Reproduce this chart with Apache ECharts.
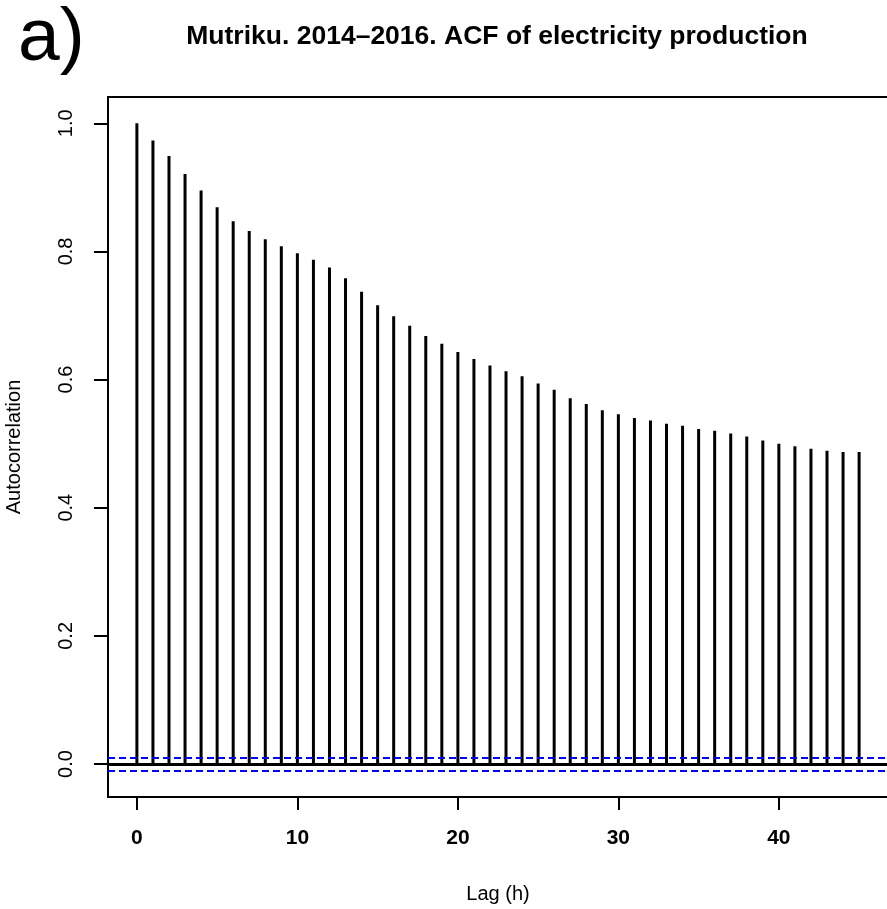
<!DOCTYPE html>
<html>
<head>
<meta charset="utf-8">
<script src="https://cdn.jsdelivr.net/npm/echarts@6/dist/echarts.min.js"></script>
<style>
  html, body { margin: 0; padding: 0; background: #fff; }
  #chart { width: 887px; height: 909px; }
</style>
</head>
<body>
<div id="chart"></div>
<script>
// lag (h) and autocorrelation
const lags = [0, 1, 2, 3, 4, 5, 6, 7, 8, 9, 10, 11, 12, 13, 14, 15, 16, 17, 18, 19, 20, 21, 22,
  23, 24, 25, 26, 27, 28, 29, 30, 31, 32, 33, 34, 35, 36, 37, 38, 39, 40, 41, 42, 43, 44, 45];
const acf = [1.000, 0.973, 0.949, 0.921, 0.895, 0.869, 0.847, 0.832, 0.819, 0.808, 0.797, 0.787,
  0.775, 0.758, 0.737, 0.716, 0.699, 0.684, 0.668, 0.656, 0.643, 0.632, 0.622, 0.613, 0.605,
  0.594, 0.584, 0.571, 0.562, 0.552, 0.546, 0.540, 0.536, 0.531, 0.528, 0.523, 0.520, 0.516,
  0.511, 0.505, 0.500, 0.496, 0.492, 0.489, 0.487, 0.487];
const ci = 0.0105;   // confidence bound (blue dashed)
const xTicks = [0, 10, 20, 30, 40];
const yTicks = [0, 0.2, 0.4, 0.6, 0.8, 1.0];

const font = 'Liberation Sans, Arial, Helvetica, sans-serif';
const chart = echarts.init(document.getElementById('chart'));

chart.setOption({
  animation: false,
  title: {
    text: 'Mutriku. 2014\u20132016. ACF of electricity production',
    left: 492,
    top: 18,
    textAlign: 'center',
    textStyle: { fontFamily: font, fontSize: 26.5, fontWeight: 'bold', color: '#000' }
  },
  graphic: [{
    type: 'text',
    left: 18,
    top: 2,
    style: { text: 'a)', font: '75px ' + font, fill: '#000' }
  }],
  grid: {
    left: 108, top: 97, width: 780, height: 700,
    outerBoundsMode: 'none',
    containLabel: false,
    show: true, borderColor: '#000', borderWidth: 2, backgroundColor: 'transparent'
  },
  xAxis: {
    type: 'value',
    min: -1.8,
    max: 46.8,
    name: 'Lag (h)',
    nameLocation: 'middle',
    nameGap: 87,
    nameTextStyle: { fontFamily: font, fontSize: 20, color: '#000' },
    splitLine: { show: false },
    axisLine: { show: true, onZero: false, lineStyle: { color: '#000', width: 2 } },
    axisTick: { show: true, length: 13, customValues: xTicks, lineStyle: { color: '#000', width: 2 } },
    axisLabel: {
      customValues: xTicks,
      margin: 31,
      fontFamily: font, fontSize: 21, fontWeight: 'bold', color: '#000'
    }
  },
  yAxis: {
    type: 'value',
    min: -0.0515,
    max: 1.041,
    name: 'Autocorrelation',
    nameLocation: 'middle',
    nameRotate: 90,
    nameGap: 84,
    nameTextStyle: { fontFamily: font, fontSize: 20, color: '#000' },
    splitLine: { show: false },
    axisLine: { show: true, onZero: false, lineStyle: { color: '#000', width: 2 } },
    axisTick: { show: true, length: 14, customValues: yTicks, lineStyle: { color: '#000', width: 2 } },
    axisLabel: {
      customValues: yTicks,
      rotate: 90,
      margin: 32,
      formatter: v => v.toFixed(1),
      fontFamily: font, fontSize: 20, color: '#000'
    }
  },
  series: [{
    type: 'bar',
    barWidth: 3,
    itemStyle: { color: '#000' },
    data: lags.map((l, i) => [l, acf[i]]),
    markLine: {
      silent: true,
      symbol: 'none',
      label: { show: false },
      data: [
        { yAxis: 0, lineStyle: { color: '#000', width: 3, type: 'solid' } },
        { yAxis: ci, lineStyle: { color: '#0000ff', width: 2, type: [7, 4] } },
        { yAxis: -ci, lineStyle: { color: '#0000ff', width: 2, type: [7, 4] } }
      ]
    }
  }]
});
</script>
</body>
</html>
